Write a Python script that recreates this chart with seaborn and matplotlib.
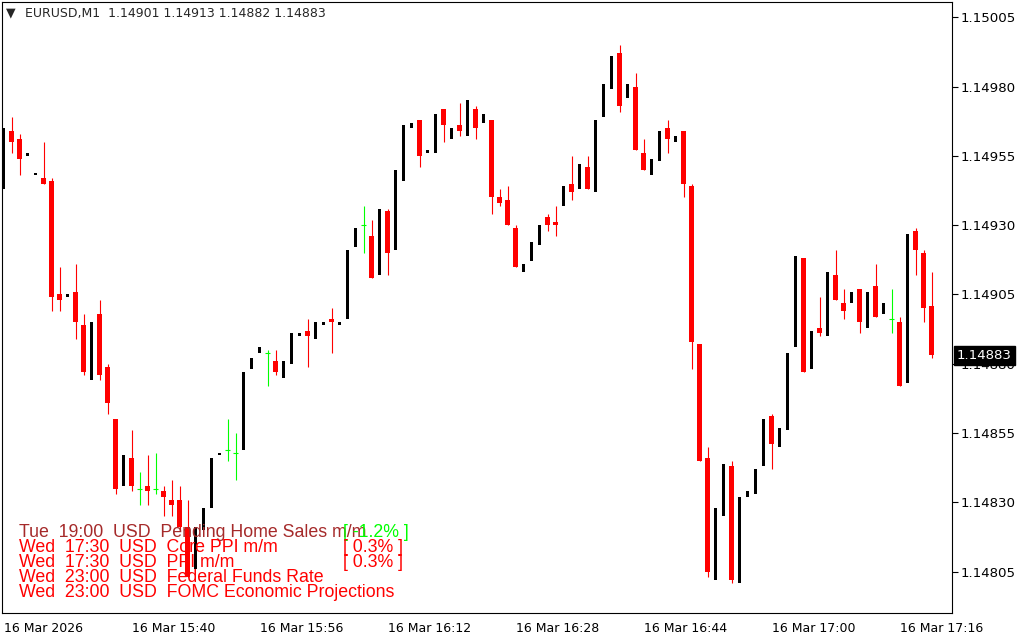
import numpy as np
import pandas as pd
import seaborn as sns
import matplotlib.pyplot as plt

sns.set_style("white")
plt.rcParams['font.family'] = ['DejaVu Sans']

# EURUSD M1 candles, 16 Mar 2026 15:24 .. 17:20
opens = [1.14943, 1.14964, 1.14961, 1.14955, 1.14948, 1.14947, 1.14946, 1.14905, 1.14904, 1.14906,
         1.14894, 1.14874, 1.14898, 1.14879, 1.14860, 1.14836, 1.14846, 1.14835, 1.14836, 1.14835,
         1.14834, 1.14831, 1.14831, 1.14821, 1.14806, 1.14820, 1.14828, 1.14847, 1.14849, 1.14848,
         1.14849, 1.14878, 1.14884, 1.14884, 1.14881, 1.14875, 1.14880, 1.14890, 1.14892, 1.14889,
         1.14894, 1.14896, 1.14894, 1.14896, 1.14922, 1.14930, 1.14926, 1.14912, 1.14935, 1.14921,
         1.14946, 1.14965, 1.14968, 1.14956, 1.14956, 1.14972, 1.14961, 1.14966, 1.14962, 1.14972,
         1.14967, 1.14968, 1.14940, 1.14939, 1.14929, 1.14913, 1.14917, 1.14923, 1.14933, 1.14931,
         1.14937, 1.14945, 1.14943, 1.14951, 1.14942, 1.14969, 1.14979, 1.14992, 1.14976, 1.14980,
         1.14956, 1.14948, 1.14953, 1.14965, 1.14960, 1.14964, 1.14944, 1.14887, 1.14846, 1.14802,
         1.14825, 1.14843, 1.14801, 1.14832, 1.14833, 1.14843, 1.14861, 1.14850, 1.14856, 1.14886,
         1.14918, 1.14878, 1.14893, 1.14890, 1.14912, 1.14902, 1.14902, 1.14907, 1.14893, 1.14908,
         1.14898, 1.14896, 1.14895, 1.14873, 1.14928, 1.14920, 1.14901]
highs = [1.14965, 1.14969, 1.14963, 1.14956, 1.14949, 1.14960, 1.14947, 1.14915, 1.14905, 1.14916,
         1.14898, 1.14895, 1.14903, 1.14880, 1.14860, 1.14847, 1.14856, 1.14841, 1.14847, 1.14848,
         1.14836, 1.14838, 1.14836, 1.14831, 1.14821, 1.14828, 1.14846, 1.14848, 1.14860, 1.14855,
         1.14877, 1.14882, 1.14886, 1.14885, 1.14885, 1.14881, 1.14891, 1.14891, 1.14896, 1.14895,
         1.14895, 1.14900, 1.14895, 1.14921, 1.14929, 1.14937, 1.14932, 1.14936, 1.14936, 1.14950,
         1.14966, 1.14967, 1.14968, 1.14957, 1.14970, 1.14972, 1.14965, 1.14974, 1.14975, 1.14973,
         1.14970, 1.14968, 1.14943, 1.14944, 1.14930, 1.14916, 1.14924, 1.14930, 1.14934, 1.14937,
         1.14944, 1.14955, 1.14952, 1.14955, 1.14968, 1.14981, 1.14991, 1.14995, 1.14981, 1.14985,
         1.14961, 1.14954, 1.14964, 1.14968, 1.14962, 1.14964, 1.14945, 1.14887, 1.14850, 1.14828,
         1.14844, 1.14845, 1.14832, 1.14834, 1.14842, 1.14860, 1.14862, 1.14857, 1.14884, 1.14919,
         1.14918, 1.14892, 1.14904, 1.14913, 1.14921, 1.14907, 1.14906, 1.14907, 1.14906, 1.14916,
         1.14902, 1.14907, 1.14897, 1.14927, 1.14929, 1.14921, 1.14913]
lows = [1.14943, 1.14956, 1.14948, 1.14955, 1.14948, 1.14945, 1.14899, 1.14899, 1.14904, 1.14889,
        1.14876, 1.14874, 1.14874, 1.14862, 1.14833, 1.14836, 1.14834, 1.14829, 1.14829, 1.14833,
        1.14825, 1.14825, 1.14820, 1.14803, 1.14806, 1.14820, 1.14828, 1.14847, 1.14845, 1.14838,
        1.14849, 1.14878, 1.14884, 1.14872, 1.14876, 1.14875, 1.14880, 1.14890, 1.14879, 1.14889,
        1.14894, 1.14884, 1.14894, 1.14896, 1.14922, 1.14920, 1.14911, 1.14912, 1.14912, 1.14921,
        1.14946, 1.14965, 1.14951, 1.14956, 1.14956, 1.14960, 1.14961, 1.14962, 1.14962, 1.14961,
        1.14967, 1.14934, 1.14937, 1.14930, 1.14915, 1.14913, 1.14917, 1.14923, 1.14928, 1.14926,
        1.14937, 1.14939, 1.14943, 1.14943, 1.14942, 1.14969, 1.14979, 1.14971, 1.14976, 1.14957,
        1.14950, 1.14948, 1.14953, 1.14956, 1.14960, 1.14940, 1.14878, 1.14845, 1.14803, 1.14802,
        1.14825, 1.14801, 1.14801, 1.14832, 1.14833, 1.14843, 1.14842, 1.14850, 1.14856, 1.14886,
        1.14877, 1.14878, 1.14890, 1.14890, 1.14903, 1.14896, 1.14902, 1.14891, 1.14893, 1.14897,
        1.14898, 1.14891, 1.14872, 1.14873, 1.14912, 1.14895, 1.14882]
closes = [1.14965, 1.14960, 1.14954, 1.14956, 1.14949, 1.14945, 1.14904, 1.14903, 1.14905, 1.14895,
          1.14877, 1.14895, 1.14876, 1.14866, 1.14835, 1.14847, 1.14836, 1.14835, 1.14834, 1.14835,
          1.14832, 1.14829, 1.14821, 1.14803, 1.14821, 1.14828, 1.14846, 1.14848, 1.14849, 1.14848,
          1.14877, 1.14882, 1.14886, 1.14884, 1.14877, 1.14881, 1.14891, 1.14891, 1.14890, 1.14895,
          1.14895, 1.14895, 1.14895, 1.14921, 1.14929, 1.14930, 1.14911, 1.14936, 1.14920, 1.14950,
          1.14966, 1.14967, 1.14955, 1.14957, 1.14970, 1.14966, 1.14965, 1.14964, 1.14975, 1.14965,
          1.14970, 1.14940, 1.14938, 1.14930, 1.14915, 1.14916, 1.14924, 1.14930, 1.14930, 1.14930,
          1.14944, 1.14942, 1.14952, 1.14943, 1.14968, 1.14981, 1.14991, 1.14973, 1.14981, 1.14957,
          1.14950, 1.14954, 1.14964, 1.14961, 1.14962, 1.14945, 1.14888, 1.14845, 1.14805, 1.14828,
          1.14844, 1.14802, 1.14832, 1.14834, 1.14842, 1.14860, 1.14851, 1.14857, 1.14884, 1.14919,
          1.14877, 1.14892, 1.14891, 1.14913, 1.14903, 1.14899, 1.14906, 1.14895, 1.14906, 1.14897,
          1.14902, 1.14896, 1.14872, 1.14927, 1.14921, 1.14900, 1.14883]

price_ticks = [1.14805, 1.14830, 1.14855, 1.14880, 1.14905, 1.14930, 1.14955, 1.14980, 1.15005]
time_ticks = [0, 16, 32, 48, 64, 80, 96, 112]
time_labels = ["16 Mar 2026", "16 Mar 15:40", "16 Mar 15:56", "16 Mar 16:12",
               "16 Mar 16:28", "16 Mar 16:44", "16 Mar 17:00", "16 Mar 17:16"]

news_rows = ["Tue  19:00  USD  Pending Home Sales m/m",
             "Wed  17:30  USD  Core PPI m/m",
             "Wed  17:30  USD  PPI m/m",
             "Wed  23:00  USD  Federal Funds Rate",
             "Wed  23:00  USD  FOMC Economic Projections"]
news_values = ["[ -1.2% ]", "[ 0.3% ]", "[ 0.3% ]", "", ""]
news_colors = ["#a52a2a", "#ff0000", "#ff0000", "#ff0000", "#ff0000"]
value_colors = ["#00ff00", "#ff0000", "#ff0000", "#ff0000", "#ff0000"]

df = pd.DataFrame({"open": opens, "high": highs, "low": lows, "close": closes})
df["bar"] = np.arange(len(df))
up = df[df.close > df.open]
down = df[df.close < df.open]
doji = df[df.close == df.open]

fig = plt.figure(figsize=(10.24, 6.4), dpi=100)
ax = fig.add_axes([2.3 / 1024, 26.7 / 640, 950 / 1024, 611 / 640])

# bearish: red wick + red body
ax.vlines(down.bar, down.low, down.high, color="#ff0000", linewidth=0.8)
ax.bar(down.bar, down.open - down.close, bottom=down.close, width=0.62,
       color="#ff0000", linewidth=0)
# bullish: narrow black body
ax.bar(up.bar, up.close - up.open, bottom=up.open, width=0.38,
       color="black", linewidth=0)
# doji: green cross
ax.vlines(doji.bar, doji.low, doji.high, color="#00ff00", linewidth=0.8)
ax.hlines(doji.open, doji.bar - 0.32, doji.bar + 0.32, color="#00ff00", linewidth=0.8)

ax.set_xlim(-0.15, 118.6)
ax.set_ylim(1.14790, 1.150104)

ax.yaxis.tick_right()
ax.set_yticks(price_ticks)
ax.set_yticklabels([f"{p:.5f}" for p in price_ticks])
ax.set_xticks(time_ticks)
ax.set_xticklabels(time_labels)
for lab in ax.get_xticklabels():
    lab.set_horizontalalignment("left")
ax.tick_params(axis="both", direction="out", length=4, width=0.8,
               labelsize=9, colors="black", pad=2)
ax.tick_params(axis="y", pad=2, labelsize=9.6)
for sp in ax.spines.values():
    sp.set_color("black")
    sp.set_linewidth(0.8)
ax.grid(False)

# current price marker
ax.text(1.005, closes[-1], f"{closes[-1]:.5f}", transform=ax.get_yaxis_transform(),
        ha="left", va="center", fontsize=9.6, color="white", zorder=10, clip_on=False,
        bbox=dict(facecolor="black", edgecolor="black", pad=2.0))

# header
fig.text(6 / 1024, 1 - 13 / 640, "\u25bc", fontsize=9, va="center", ha="left")
fig.text(25 / 1024, 1 - 14 / 640,
         f"EURUSD,M1  {opens[-1]:.5f} {highs[-1]:.5f} {lows[-1]:.5f} {closes[-1]:.5f}",
         fontsize=9, va="center", ha="left")

# news block
for i, (row, val) in enumerate(zip(news_rows, news_values)):
    y = 1 - (532.5 + 15 * i) / 640
    fig.text(19 / 1024, y, row, fontsize=12.8, color=news_colors[i],
             family=["Liberation Sans", "DejaVu Sans"], va="center", ha="left", zorder=20)
    if val:
        fig.text(343 / 1024, y, val, fontsize=12.8, color=value_colors[i],
                 family=["Liberation Sans", "DejaVu Sans"], va="center", ha="left", zorder=21)

fig.savefig("out.png", dpi=100)
